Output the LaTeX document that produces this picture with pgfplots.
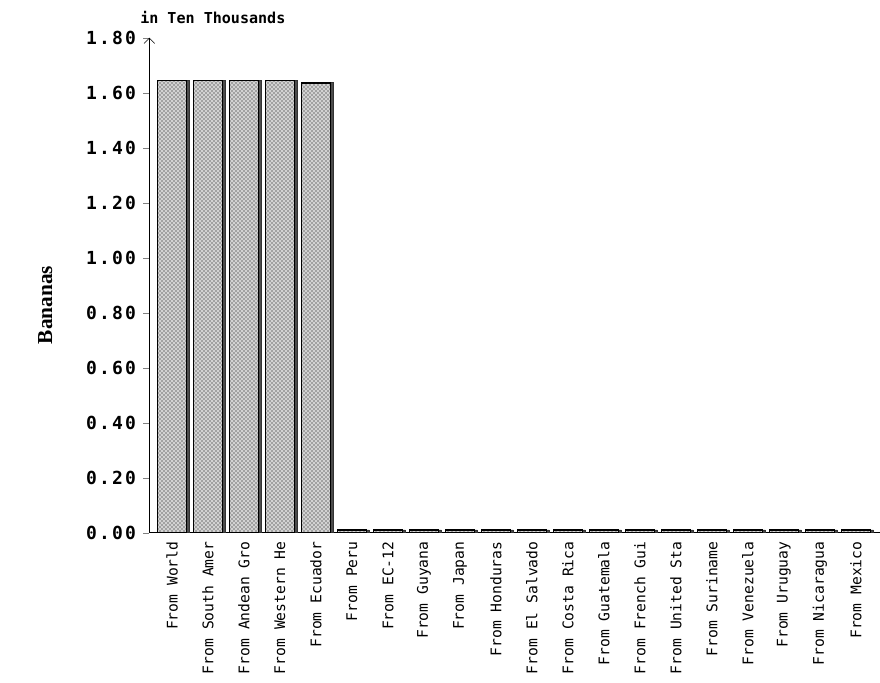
\documentclass[border=0pt]{standalone}
\usepackage{fontspec}
\setmainfont{Liberation Serif}
\newfontfamily\monofont{DejaVu Sans Mono}
\newfontfamily\tickfont{DejaVu Sans Mono}[LetterSpace=12]
\usepackage{pgfplots}
\pgfplotsset{compat=1.18}
\usetikzlibrary{patterns,arrows.meta}
\begin{document}
\begin{tikzpicture}
\begin{axis}[
  scale only axis, clip=false,
  width=548pt, height=371.25pt,
  xmin=-0.63, xmax=19.67,
  ymin=0, ymax=1.8,
  axis x line=bottom, axis y line=left,
  x axis line style={-},
  y axis line style={-{Straight Barb[length=4pt,width=8pt]}},
  ytick={0,0.2,...,1.8},
  tick align=outside,
  major tick length=4.5pt,
  xtick={0,...,19},
  xtick style={draw=none},
  xticklabels={From World,From South Amer,From Andean Gro,From Western He,From Ecuador,From Peru,From EC-12,From Guyana,From Japan,From Honduras,From El Salvado,From Costa Rica,From Guatemala,From French Gui,From United Sta,From Suriname,From Venezuela,From Uruguay,From Nicaragua,From Mexico},
  xticklabel style={rotate=90, anchor=east, font=\monofont\fontsize{11}{12}\selectfont, inner sep=2pt},
  yticklabel style={font=\tickfont\bfseries\fontsize{13.5}{14}\selectfont, xshift=-2pt},
  /pgf/number format/.cd, fixed, fixed zerofill, precision=2, assume math mode=true,
]
\addplot[ybar, bar width=21.75pt, bar shift=2.25pt, fill=black!70, draw=black!80, line width=0.6pt]
  coordinates {(0,1.644) (1,1.644) (2,1.644) (3,1.644) (4,1.636) (5,0.01) (6,0.01) (7,0.01) (8,0.01) (9,0.01) (10,0.01) (11,0.01) (12,0.01) (13,0.01) (14,0.01) (15,0.01) (16,0.01) (17,0.01) (18,0.01) (19,0.01)};
\addplot[ybar, bar width=21.75pt, bar shift=0pt, fill=gray!35, draw=black, line width=1.2pt,
  postaction={pattern=crosshatch dots, pattern color=black}]
  coordinates {(0,1.644) (1,1.644) (2,1.644) (3,1.644) (4,1.636) (5,0.01) (6,0.01) (7,0.01) (8,0.01) (9,0.01) (10,0.01) (11,0.01) (12,0.01) (13,0.01) (14,0.01) (15,0.01) (16,0.01) (17,0.01) (18,0.01) (19,0.01)};
\node[anchor=base west, font=\monofont\bfseries\fontsize{11.3}{12}\selectfont, inner sep=0pt] at ([xshift=-7pt, yshift=11pt]rel axis cs:0,1) {in Ten Thousands};
\node[rotate=90, font=\bfseries\fontsize{16}{18}\selectfont] at ([xshift=-78pt]rel axis cs:0,0.46) {Bananas};
\end{axis}
\pgfresetboundingbox
\path[use as bounding box] (-112pt,-112.7pt) rectangle (548pt,399.5pt);
\end{tikzpicture}
\end{document}
